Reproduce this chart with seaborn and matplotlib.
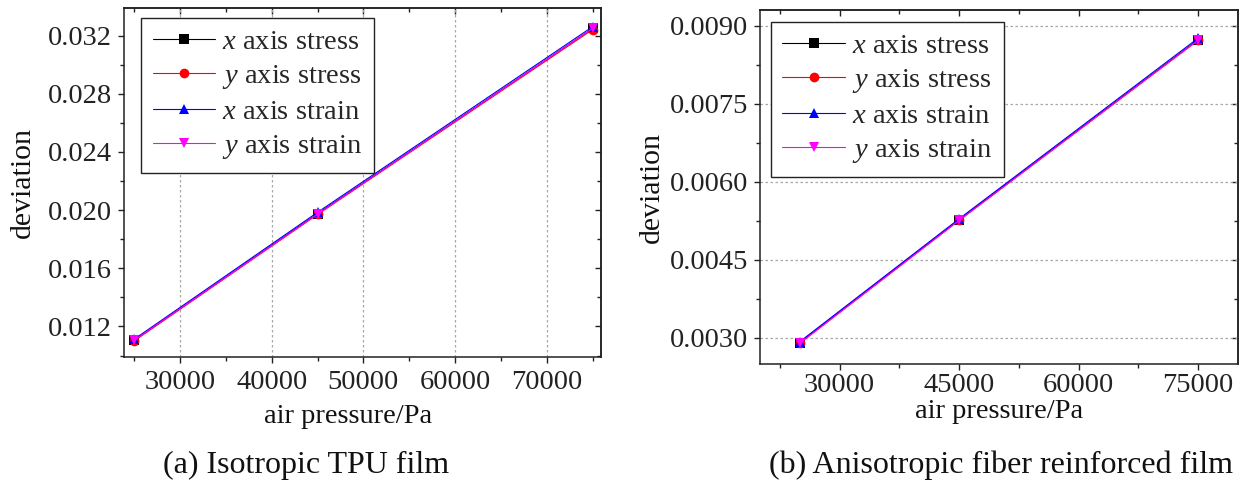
import matplotlib
matplotlib.use("Agg")
import matplotlib.pyplot as plt
import pandas as pd
import seaborn as sns
from matplotlib.ticker import MultipleLocator

# data
pressure = [25000, 45000, 75000]
series = ["$x$ axis stress", "$y$ axis stress", "$x$ axis strain", "$y$ axis strain"]

# (a) isotropic TPU film
tpu_x_stress = [0.01105, 0.01975, 0.03250]
tpu_y_stress = [0.01100, 0.01970, 0.03242]
tpu_x_strain = [0.01112, 0.01985, 0.03262]
tpu_y_strain = [0.01105, 0.01972, 0.03250]

# (b) anisotropic fiber reinforced film
fib_x_stress = [0.00291, 0.00527, 0.00873]
fib_y_stress = [0.00290, 0.00526, 0.00872]
fib_x_strain = [0.00293, 0.00529, 0.00876]
fib_y_strain = [0.00290, 0.00526, 0.00872]

captions = ["(a) Isotropic TPU film", "(b) Anisotropic fiber reinforced film"]

colors = dict(zip(series, ["black", "red", "blue", "magenta"]))
markers = dict(zip(series, ["s", "o", "^", "v"]))


def to_long(values):
    rows = []
    for name, vals in zip(series, values):
        for p, v in zip(pressure, vals):
            rows.append({"pressure": p, "deviation": v, "series": name})
    return pd.DataFrame(rows)


sns.set_theme(style="ticks")
plt.rcParams["font.family"] = ["Liberation Serif", "DejaVu Serif"]
plt.rcParams["mathtext.fontset"] = "custom"
plt.rcParams["mathtext.rm"] = "Liberation Serif"
plt.rcParams["mathtext.it"] = "Liberation Serif:italic"

FS = 20.5
fig = plt.figure(figsize=(12.41, 4.90), dpi=100)
ax_a = fig.add_axes([0.0999, 0.2714, 0.3844, 0.7123])
ax_b = fig.add_axes([0.6124, 0.2571, 0.3852, 0.7225])

panels = [
    dict(ax=ax_a, data=to_long([tpu_x_stress, tpu_y_stress, tpu_x_strain, tpu_y_strain]),
         xlim=(23900, 75900), ylim=(0.0099, 0.0339),
         xmaj=10000, xmin=5000, ymaj=0.004, ymin=0.002, yfmt="{:.3f}",
         grid="x", leg=(0.036, 0.971), ylab_x=-0.185, xlab=(0.47, -0.135), xpad=5),
    dict(ax=ax_b, data=to_long([fib_x_stress, fib_y_stress, fib_x_strain, fib_y_strain]),
         xlim=(20000, 80000), ylim=(0.0025, 0.0093),
         xmaj=15000, xmin=7500, ymaj=0.0015, ymin=0.00075, yfmt="{:.4f}",
         grid="y", leg=(0.023, 0.966), ylab_x=-0.2, xlab=(0.5, -0.1), xpad=2),
]

for cfg in panels:
    ax = cfg["ax"]
    sns.lineplot(data=cfg["data"], x="pressure", y="deviation", hue="series",
                 style="series", palette=colors, markers=markers, dashes=False,
                 linewidth=0.8, markersize=7, markeredgewidth=0, ax=ax)
    ax.set_xlim(*cfg["xlim"])
    ax.set_ylim(*cfg["ylim"])
    ax.xaxis.set_major_locator(MultipleLocator(cfg["xmaj"]))
    ax.xaxis.set_minor_locator(MultipleLocator(cfg["xmin"]))
    ax.yaxis.set_major_locator(MultipleLocator(cfg["ymaj"]))
    ax.yaxis.set_minor_locator(MultipleLocator(cfg["ymin"]))
    fmt = cfg["yfmt"]
    ax.yaxis.set_major_formatter(plt.FuncFormatter(lambda v, p, f=fmt: f.format(v)))
    ax.xaxis.set_major_formatter(plt.FuncFormatter(lambda v, p: f"{v:.0f}"))
    ax.tick_params(which="both", direction="out", colors="#222222", labelsize=FS,
                   width=1.0)
    ax.tick_params(which="major", length=4.5)
    ax.tick_params(which="minor", length=3)
    ax.tick_params(axis="x", pad=cfg["xpad"])
    ax.tick_params(axis="y", pad=4)
    for s in ax.spines.values():
        s.set_color("#222222")
        s.set_linewidth(1.1)

    # mirrored ticks pointing inwards on top and right
    top = ax.secondary_xaxis("top")
    top.xaxis.set_major_locator(MultipleLocator(cfg["xmaj"]))
    top.xaxis.set_minor_locator(MultipleLocator(cfg["xmin"]))
    top.tick_params(which="both", direction="in", labeltop=False, colors="#222222", width=1.0)
    top.tick_params(which="major", length=4.5)
    top.tick_params(which="minor", length=3)
    right = ax.secondary_yaxis("right")
    right.yaxis.set_major_locator(MultipleLocator(cfg["ymaj"]))
    right.yaxis.set_minor_locator(MultipleLocator(cfg["ymin"]))
    right.tick_params(which="both", direction="in", labelright=False, colors="#222222", width=1.0)
    right.tick_params(which="major", length=4.5)
    right.tick_params(which="minor", length=3)
    for sec in (top, right):
        for s in sec.spines.values():
            s.set_color("#222222")
            s.set_linewidth(1.1)

    ax.grid(True, axis=cfg["grid"], which="major", color="#a8a8a8",
            linestyle=(0, (2, 2)), linewidth=0.9)

    ax.set_xlabel("air pressure/Pa", fontsize=FS, color="#111111")
    ax.set_ylabel("deviation", fontsize=FS + 1, color="#111111")
    ax.xaxis.set_label_coords(*cfg["xlab"])
    ax.yaxis.set_label_coords(cfg["ylab_x"], 0.5)

    ax.get_legend().remove()
    leg = ax.legend(ax.lines[:4], series, loc="upper left",
                    bbox_to_anchor=cfg["leg"], borderaxespad=0, fontsize=FS,
                    frameon=True, fancybox=False, framealpha=1, edgecolor="#222222",
                    handlelength=2.2, handletextpad=0.25, labelspacing=0.28,
                    borderpad=0.4)
    leg.get_frame().set_linewidth(1.0)

fig.text(0.2466, 0.051, captions[0], fontsize=23, ha="center", va="center", color="#111111")
fig.text(0.8066, 0.051, captions[1], fontsize=23, ha="center", va="center", color="#111111")

fig.savefig("out.png", dpi=100)
